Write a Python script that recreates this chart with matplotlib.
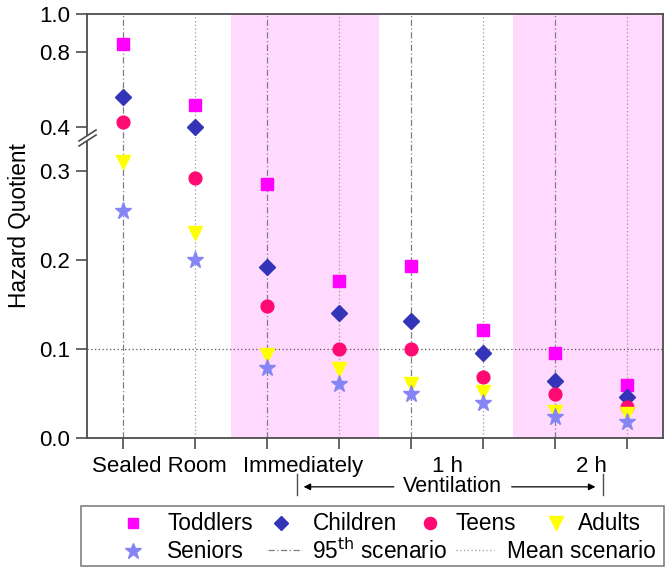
"""Hazard quotient by age group across sealed-room and ventilation scenarios."""
import numpy as np
import matplotlib.pyplot as plt
from matplotlib.lines import Line2D
from matplotlib.patches import Rectangle, Polygon
import matplotlib.transforms as mtransforms

plt.rcParams['font.family'] = ['Liberation Sans', 'DejaVu Sans']

groups = ["Sealed Room", "Immediately", "1 h", "2 h"]
# eight columns: (95th, mean) scenario for each group in turn
toddlers = [0.841, 0.518, 0.286, 0.177, 0.194, 0.121, 0.096, 0.059]
children = [0.560, 0.403, 0.192, 0.140, 0.131, 0.095, 0.064, 0.046]
teens = [0.430, 0.293, 0.148, 0.100, 0.100, 0.068, 0.049, 0.035]
adults = [0.311, 0.231, 0.093, 0.077, 0.060, 0.052, 0.029, 0.027]
seniors = [0.256, 0.200, 0.078, 0.060, 0.049, 0.039, 0.023, 0.018]
y_ticks = [0.0, 0.1, 0.2, 0.3, 0.4, 0.8, 1.0]

BREAK = 0.336
SQUEEZE = 0.213

W, H = 666, 569
FS = 15.5
LEG_FS = 16.3


def _forward(y):
    y = np.asarray(y, dtype=float)
    return np.where(y <= BREAK, y, BREAK + (y - BREAK) * SQUEEZE)


def _inverse(y):
    y = np.asarray(y, dtype=float)
    return np.where(y <= BREAK, y, BREAK + (y - BREAK) / SQUEEZE)


def px(x, y):
    return x / W, 1 - y / H


series = [
    ("Toddlers", toddlers, "s", "#FF00FF", 8.2),
    ("Children", children, "D", "#3434B8", 8.0),
    ("Teens", teens, "o", "#FF0A72", 9.2),
    ("Adults", adults, "v", "#FFFF00", 10.5),
    ("Seniors", seniors, "*", "#8585F5", 12.5),
]

fig = plt.figure(figsize=(W / 100, H / 100), dpi=100)
ax = fig.add_axes([87 / W, 1 - 437.7 / H, 576 / W, 423.7 / H])
ax.set_yscale("function", functions=(_forward, _inverse))
ax.set_xlim(-0.5, 7.5)
ax.set_ylim(0, 1.0)

positions = np.arange(len(toddlers))

ax.axvspan(1.5, 3.55, color="#FFDAFE", zorder=0, lw=0)
ax.axvspan(5.42, 7.5, color="#FFDAFE", zorder=0, lw=0)
for p in positions:
    if p % 2 == 0:
        ax.axvline(p, color="#7f7f8c", lw=0.9, ls=(0, (5, 2, 1, 2)), zorder=1)
    else:
        ax.axvline(p, color="#9a9aa6", lw=0.9, ls=(0, (1, 2)), zorder=1)
ax.axhline(0.1, color="#555555", lw=0.9, ls=(0, (1, 2)), zorder=1)

for name, values, marker, color, size in series:
    ax.plot(positions, values, ls="none", marker=marker, color=color,
            markersize=size, markeredgecolor=color, zorder=3)

ax.set_yticks(y_ticks)
ax.set_yticklabels([f"{v:.1f}" for v in y_ticks], fontsize=FS + 0.5)
ax.yaxis.set_minor_locator(plt.NullLocator())
ax.set_xticks(positions)
ax.set_xticklabels([])
ax.set_xticks([0.5, 2.5, 4.5, 6.5], minor=True)
ax.set_xticklabels(groups, minor=True, fontsize=FS + 0.5)
ax.tick_params(which="major", direction="out", length=8, width=1.2, color="#4d4d4d")
ax.tick_params(axis="x", which="minor", length=0, pad=13)
ax.tick_params(axis="y", pad=4)
for spine in ax.spines.values():
    spine.set_color("#4d4d4d")
    spine.set_linewidth(1.3)

ax.set_ylabel("Hazard Quotient", fontsize=LEG_FS)
ax.yaxis.set_label_coords(-0.098, 0.5)

# broken-axis marks on the left spine
fig.add_artist(Polygon([px(80, 145), px(95, 135), px(95, 130), px(80, 140)],
                       closed=True, transform=fig.transFigure, facecolor="white",
                       edgecolor="none", zorder=5))
for dy in (0, 5):
    x0, y0 = px(79, 146 - dy)
    x1, y1 = px(96, 135 - dy)
    fig.add_artist(Line2D([x0, x1], [y0, y1], transform=fig.transFigure,
                          color="#4d4d4d", lw=1.2, zorder=6))

# ventilation span below the axis
trans = mtransforms.blended_transform_factory(ax.transData, ax.transAxes)
y_arrow = -0.116
for xb in (2.42, 6.67):
    ax.plot([xb, xb], [-0.086, -0.136], transform=trans, color="#4d4d4d",
            lw=1.0, clip_on=False)
ax.annotate("", xy=(2.47, y_arrow), xytext=(3.8, y_arrow), xycoords=trans,
            textcoords=trans, arrowprops=dict(arrowstyle="-|>", color="black",
                                              lw=0.9, mutation_scale=10))
ax.annotate("", xy=(6.6, y_arrow), xytext=(5.36, y_arrow), xycoords=trans,
            textcoords=trans, arrowprops=dict(arrowstyle="-|>", color="black",
                                              lw=0.9, mutation_scale=10))
ax.text(4.58, y_arrow, "Ventilation", transform=trans, ha="center",
        va="center", fontsize=FS)

# legend drawn by hand to follow the reference layout
x0, y0 = px(81, 566)
x1, y1 = px(664, 506)
fig.add_artist(Rectangle((x0, y0), x1 - x0, y1 - y0, transform=fig.transFigure,
                         facecolor="white", edgecolor="#808080", lw=1.2))
row_y = [523, 551]
legend_slots = [(133, 167, 0), (281, 313, 0), (430, 456, 0), (556, 578, 0),
                (133, 167, 1)]
for (name, values, marker, color, size), (hx, tx, row) in zip(series, legend_slots):
    hxf, hyf = px(hx, row_y[row])
    fig.add_artist(Line2D([hxf], [hyf], transform=fig.transFigure, ls="none",
                          marker=marker, color=color, markeredgecolor=color,
                          markersize=size * 0.95))
    txf, tyf = px(tx, row_y[row])
    fig.text(txf, tyf, name, ha="left", va="center", fontsize=LEG_FS)

for (label, ls, color, lx0, lx1, tx) in [
    (r"95$^{\mathrm{th}}$ scenario", (0, (5, 2, 1, 2)), "#7f7f8c", 268, 302, 312),
    ("Mean scenario", (0, (1, 2)), "#9a9aa6", 456, 494, 507),
]:
    ax0, ay = px(lx0, row_y[1] - 1)
    ax1, _ = px(lx1, row_y[1] - 1)
    fig.add_artist(Line2D([ax0, ax1], [ay, ay], transform=fig.transFigure,
                          color=color, lw=0.9, ls=ls))
    txf, tyf = px(tx, row_y[1])
    fig.text(txf, tyf, label, ha="left", va="center", fontsize=LEG_FS)

fig.savefig("out.png", dpi=100)
